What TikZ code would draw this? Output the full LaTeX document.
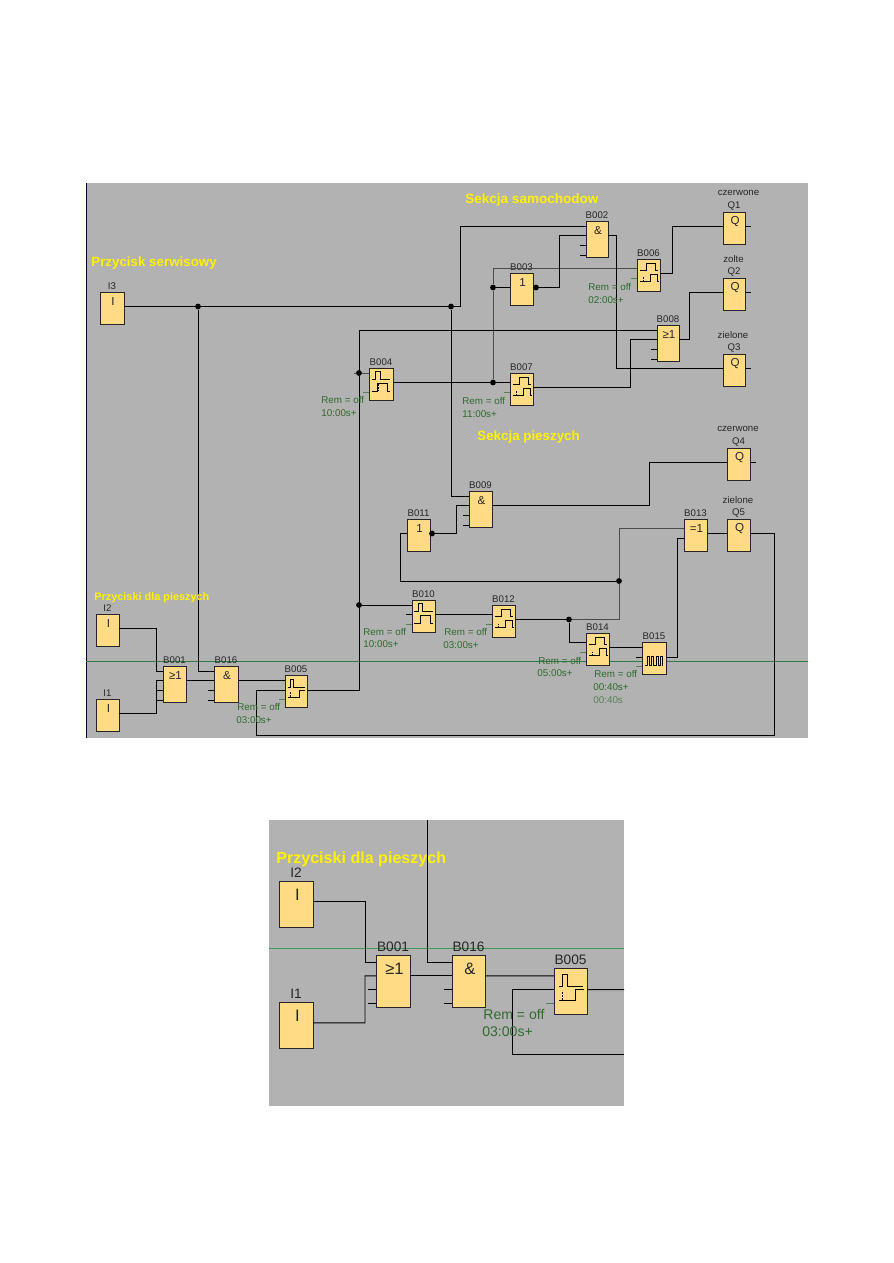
\documentclass[tikz,border=0pt]{standalone}
\usepackage{fontspec}
\setmainfont{Liberation Sans}
\usetikzlibrary{calc}
\definecolor{panelgray}{HTML}{B2B2B2}
\definecolor{blockfill}{HTML}{FFDB85}
\definecolor{remgreen}{HTML}{2E6B2E}
\definecolor{sepgreen}{HTML}{3A9A5A}
\newcommand{\pxfont}[1]{\fontsize{#1}{#1}\selectfont}
\def\pinscale{1}
\def\lblsize{5.5}
\def\symsize{6.6}
\def\remsize{5.6}
\tikzset{
	panel/.style={fill=panelgray},
	wire/.style={black,line width=0.55pt},
	gwire/.style={black!70,line width=0.55pt},
	gstub/.style={remgreen!70!panelgray,line width=0.45pt},
	sepline/.style={sepgreen!80!black,line width=0.4pt},
	fbd/.style={draw=black!85,fill=blockfill,line width=0.55pt,inner sep=0,outer sep=0},
	dot/.style={circle,fill=black,inner sep=0,minimum size=3.3pt},
	blocklabel/.style={font=\pxfont{\lblsize},inner sep=0,black!85},
	blocksym/.style={font=\pxfont{\symsize},inner sep=0,black!85},
	remtext/.style={font=\pxfont{\remsize},inner sep=0,anchor=west,remgreen},
	heading/.style={font=\bfseries\pxfont{7.6},inner sep=0,anchor=west,yellow},
	signal/.style={black,line width=0.5pt},
	ondelay/.pic={
		\draw[signal] (-8.7,-4.7) -- (-2,-4.7) -- (-2,-12) -- (7,-12) -- (7,-4.7) -- (9.7,-4.7);
		\draw[signal] (-8.7,6.3) -- (2,6.3) -- (2,-0.7) -- (8.7,-0.7) -- (8.7,6.3) -- (10.7,6.3);
		\draw[signal,dash pattern=on 1pt off 0.7pt] (-4.7,2.5) -- (-4.7,6.3);
	},
	wipe/.pic={
		\draw[signal] (-9.3,-5) -- (-5.3,-5) -- (-5.3,-12.7) -- (-1,-12.7) -- (-1,-5) -- (9,-5);
		\draw[signal] (-9.3,7.3) -- (-3.5,7.3) -- (-3.5,-1) -- (6.7,-1) -- (6.7,7.3) -- (9,7.3);
		\draw[signal,dash pattern=on 1pt off 0.7pt] (-2.7,0.5) -- (-2.7,7.3);
	},
	offdelay/.pic={
		\draw[signal] (-8,-4) -- (-5.7,-4) -- (-5.7,-12.3) -- (-2.3,-12.3) -- (-2.3,-4) -- (8.7,-4);
		\draw[signal] (-8,6) -- (3.7,6) -- (3.7,-1.3) -- (9.3,-1.3);
		\draw[signal,dash pattern=on 1pt off 0.7pt] (-5.7,0.5) -- (-5.7,6);
	},
	pulsetrain/.pic={
		\draw[signal] (-9,7.3) -- (-6.7,7.3) -- (-6.7,-2.3) -- (-4.7,-2.3) -- (-4.7,7.3)
			-- (-2.3,7.3) -- (-2.3,-2.3) -- (-0.3,-2.3) -- (-0.3,7.3)
			-- (2,7.3) -- (2,-2.3) -- (4,-2.3) -- (4,7.3)
			-- (6.3,7.3) -- (6.3,-2.3) -- (8.3,-2.3) -- (8.3,7.3) -- (9.3,7.3);
	}
}
% block: name, left, top, width, height, label; pins a..f on the left side, o on the right
\newcommand{\block}[6]{
	\node[fbd,minimum width=#4*0.02cm,minimum height=#5*0.02cm] (#1) at ({#2+#4/2},{#3+#5/2}) {};
	\node[blocklabel] (#1t) at ($(#1.north)+(0,-6*\pinscale)$) {#6};
	\foreach \pinn/\pinoff in {a/5,b/14.5,c/24,d/34,e/9.5,f/19}
		\coordinate (#1\pinn) at ($(#1.north west)+(0,\pinoff*\pinscale)$);
	\coordinate (#1o) at ($(#1.north east)+(0,14.5*\pinscale)$);
}
\newcommand{\blocksign}[2]{
	\node[blocksym] (#1s) at ($(#1.north)+(1*\pinscale,9.5*\pinscale)$) {#2};
}
\begin{document}
\begin{tikzpicture}[x=0.02cm,y=-0.02cm]
	\useasboundingbox (0,0) rectangle (893,1263);
	\fill[white] (0,0) rectangle (893,1263);

	% upper panel
	\fill[panel] (86,183) rectangle (808,738);
	\draw[black!85!blue,line width=0.55pt] (86,183) -- (86,738);
	\draw[sepline] (86,661) -- (808,661);

	\block{I3}{100}{292}{24}{32}{I3} \blocksign{I3}{I}
	\block{I2}{96}{614}{23}{32}{I2} \blocksign{I2}{I}
	\block{I1}{96}{699}{23}{32}{I1} \blocksign{I1}{I}
	\block{B001}{163}{666}{23}{36}{B001} \blocksign{B001}{≥1}
	\block{B016}{214}{666}{24}{36}{B016} \blocksign{B016}{\&}
	\block{B005}{285}{675.5}{22}{32}{B005}
	\block{B004}{369}{368}{24}{32}{B004}
	\block{B010}{412}{600}{23}{32}{B010}
	\block{B012}{492}{605}{23}{32}{B012}
	\block{B011}{407}{519}{23}{32}{B011} \blocksign{B011}{1}
	\block{B009}{469}{491}{23}{36}{B009} \blocksign{B009}{\&}
	\block{B014}{586}{633}{23}{32}{B014}
	\block{B015}{642}{642.5}{24}{32}{B015}
	\block{B013}{684}{519}{23}{32}{B013} \blocksign{B013}{=1}
	\block{B003}{510}{273}{23}{32}{B003} \blocksign{B003}{1}
	\block{B007}{510}{373}{23}{32}{B007}
	\block{B002}{586}{221}{22}{36}{B002} \blocksign{B002}{\&}
	\block{B006}{637}{259}{23}{32}{B006}
	\block{B008}{657}{325}{22}{36}{B008} \blocksign{B008}{≥1}
	\block{Q1}{723}{212}{22}{32}{Q1} \blocksign{Q1}{Q}
	\block{Q2}{723}{278}{22}{32}{Q2} \blocksign{Q2}{Q}
	\block{Q3}{723}{354}{22}{32}{Q3} \blocksign{Q3}{Q}
	\block{Q4}{727}{448}{23}{32}{Q4} \blocksign{Q4}{Q}
	\block{Q5}{727}{519}{23}{32}{Q5} \blocksign{Q5}{Q}

	\pic at (B005) {offdelay};
	\pic at (B004) {wipe};
	\pic at (B010) {wipe};
	\pic at (B012) {ondelay};
	\pic at (B014) {ondelay};
	\pic at (B015) {pulsetrain};
	\pic at (B007) {ondelay};
	\pic at (B006) {ondelay};

	\node[blocklabel] (q1n) at (738.5,193) {czerwone};
	\node[blocklabel] (q2n) at (733.5,259) {zolte};
	\node[blocklabel] (q3n) at (733,335) {zielone};
	\node[blocklabel] (q4n) at (738,429) {czerwone};
	\node[blocklabel] (q5n) at (738,500) {zielone};

	\node[dot] (j1) at (198,306.5) {};
	\node[dot] (j2) at (451,306.5) {};
	\node[dot] (j3) at (493,287.5) {};
	\node[dot] (j4) at (493,382.5) {};
	\node[dot] (j5) at (359,373) {};
	\node[dot] (j6) at (359,605) {};
	\node[dot] (j7) at (619,581) {};
	\node[dot] (j8) at (569,619.5) {};
	\node[dot] (j9) at (432,533.5) {};
	\node[dot] (j10) at (536,287.5) {};

	\coordinate (k1) at (460.5,226);
	\coordinate (k2) at (559.5,235.5);
	\coordinate (k3) at (616,368.5);
	\coordinate (k4) at (672,226.5);
	\coordinate (k5) at (689,292.5);
	\coordinate (k6) at (630,339.5);
	\coordinate (k7) at (359,330);
	\coordinate (k8) at (619,528.5);
	\coordinate (k9) at (400,581);
	\coordinate (k10) at (456,505.5);
	\coordinate (k11) at (649,462.5);
	\coordinate (k12) at (677,538);
	\coordinate (k13) at (156,671);
	\coordinate (k14) at (156,680.5);
	\coordinate (reta) at (774,735);
	\coordinate (retb) at (256,735);

	\draw[wire] (I3o) -- (j1) -- (j2) -| (k1) -- (B002a);
	\draw[wire] (j1) |- (B016a);
	\draw[wire] (j2) |- (B009a);
	\draw[gwire] (B006e) -| (j3) -- (j4);
	\draw[wire] (j3) -- (B003b);
	\draw[wire] (B004o) -- (j4) -- (B007e);
	\draw[wire] (B003o) -- (j10) -| (k2) -- (B002b);
	\draw[wire] (B002o) -| (k3) -- (Q3b);
	\draw[wire] (B006o) -| (k4) -- (Q1b);
	\draw[wire] (B008o) -| (k5) -- (Q2b);
	\draw[wire] (B007o) -| (k6) -- (B008b);
	\draw[wire] (B005o) -| (k7) -- (B008a);
	\draw[gwire] (B004a) -- (j5) -- ++(-5,0);
	\draw[wire] (j6) -- (B010a);
	\draw[wire] (B010o) -- (B012e);
	\draw[wire] (B012o) -- (j8);
	\draw[gwire] (j8) -| (j7) -- (k8) -- (B013e);
	\draw[wire] (j7) -- (k9) |- (B011b);
	\draw[wire] (B011o) -- (j9) -| (k10) -- (B009b);
	\draw[wire] (B009o) -| (k11) -- (Q4b);
	\draw[wire] (j8) |- (B014e);
	\draw[wire] (B014o) -- (B015a);
	\draw[wire] (B015o) -| (k12) -- (B013f);
	\draw[wire] (B013o) -- (Q5b);
	\draw[wire] (I2o) -| (k13) -- (B001a);
	\draw[wire] (I1o) -| (k14) -- (B001b);
	\draw[wire] (B001o) -- (B016b);
	\draw[wire] (B016o) -- (B005a);
	\draw[wire] (Q5o) -| (reta) -- (retb) |- (B005b);

	\foreach \pinp in {B001c,B001d,B016c,B016d,B009c,B009d,B002c,B002d,B008c,B008d,B010b,B015b}
		\draw[wire] (\pinp) -- ++(-6,0);
	\foreach \pinp in {B004c,B005c,B010c,B012f,B014f,B015c,B007f,B006f}
		\draw[gstub] (\pinp) -- ++(-6,0);
	\foreach \pinp in {Q1o,Q2o,Q3o,Q4o}
		\draw[wire] (\pinp) -- ++(6,0);

	\node[heading,font=\bfseries\pxfont{7.7}] (hsam) at (465,200.5) {Sekcja samochodow};
	\node[heading] (hser) at (91,263.5) {Przycisk serwisowy};
	\node[heading] (hpie) at (477,437) {Sekcja pieszych};
	\node[heading,font=\bfseries\pxfont{6.2}] (hprz) at (94,597.5) {Przyciski dla pieszych};

	\node[remtext] (r4a) at (321,400) {Rem = off};
	\node[remtext] (r4b) at (321,413) {10:00s+};
	\node[remtext] (r7a) at (462,401) {Rem = off};
	\node[remtext] (r7b) at (462,414) {11:00s+};
	\node[remtext] (r6a) at (588,287) {Rem = off};
	\node[remtext] (r6b) at (588,300) {02:00s+};
	\node[remtext] (r10a) at (363,632) {Rem = off};
	\node[remtext] (r10b) at (363,644) {10:00s+};
	\node[remtext] (r12a) at (444,632) {Rem = off};
	\node[remtext] (r12b) at (443,645) {03:00s+};
	\node[remtext] (r14a) at (538,661) {Rem = off};
	\node[remtext] (r14b) at (537,673) {05:00s+};
	\node[remtext] (r15a) at (594,674) {Rem = off};
	\node[remtext] (r15b) at (593,687) {00:40s+};
	\node[remtext,remgreen!70!panelgray] (r15c) at (593,700) {00:40s};
	\node[remtext] (r5a) at (237,707) {Rem = off};
	\node[remtext] (r5b) at (236,720) {03:00s+};

	% lower panel, same part of the circuit enlarged
	\fill[panel] (269,820) rectangle (624,1106);
	\draw[sepgreen,line width=0.55pt] (269,948) -- (624,948);
	\def\pinscale{1.44}
	\def\lblsize{7.8}
	\def\symsize{9.4}
	\def\remsize{8}

	\block{I2z}{279}{881}{34}{46}{I2} \blocksign{I2z}{I}
	\block{I1z}{279}{1002}{34}{46}{I1} \blocksign{I1z}{I}
	\block{B001z}{376}{955}{34}{52}{B001} \blocksign{B001z}{≥1}
	\block{B016z}{452}{955}{33}{52}{B016} \blocksign{B016z}{\&}
	\block{B005z}{554}{968.7}{33}{46}{B005}
	\pic[scale=1.44] at (B005z) {offdelay};

	\coordinate (z1) at (427,820);
	\coordinate (z2) at (624,989.6);
	\coordinate (z3) at (624,1054);
	\coordinate (z4) at (512,1054);
	\coordinate (z5) at (365,962.2);
	\coordinate (z6) at (365,975.9);

	\draw[wire] (I2zo) -| (z5) -- (B001za);
	\draw[wire] (I1zo) -| (z6) -- (B001zb);
	\draw[wire] (B001zo) -- (B016zb);
	\draw[wire] (z1) |- (B016za);
	\draw[wire] (B016zo) -- (B005za);
	\draw[wire] (B005zo) -- (z2);
	\draw[wire] (z3) -- (z4) |- (B005zb);
	\foreach \pinp in {B001zc,B001zd,B016zc,B016zd}
		\draw[wire] (\pinp) -- ++(-8.5,0);
	\draw[gstub] (B005zc) -- ++(-8.5,0);

	\node[heading,font=\bfseries\pxfont{9.15}] (hprzz) at (276,859) {Przyciski dla pieszych};
	\node[remtext] (rza) at (483,1014) {Rem = off};
	\node[remtext] (rzb) at (482,1032) {03:00s+};
\end{tikzpicture}
\end{document}
